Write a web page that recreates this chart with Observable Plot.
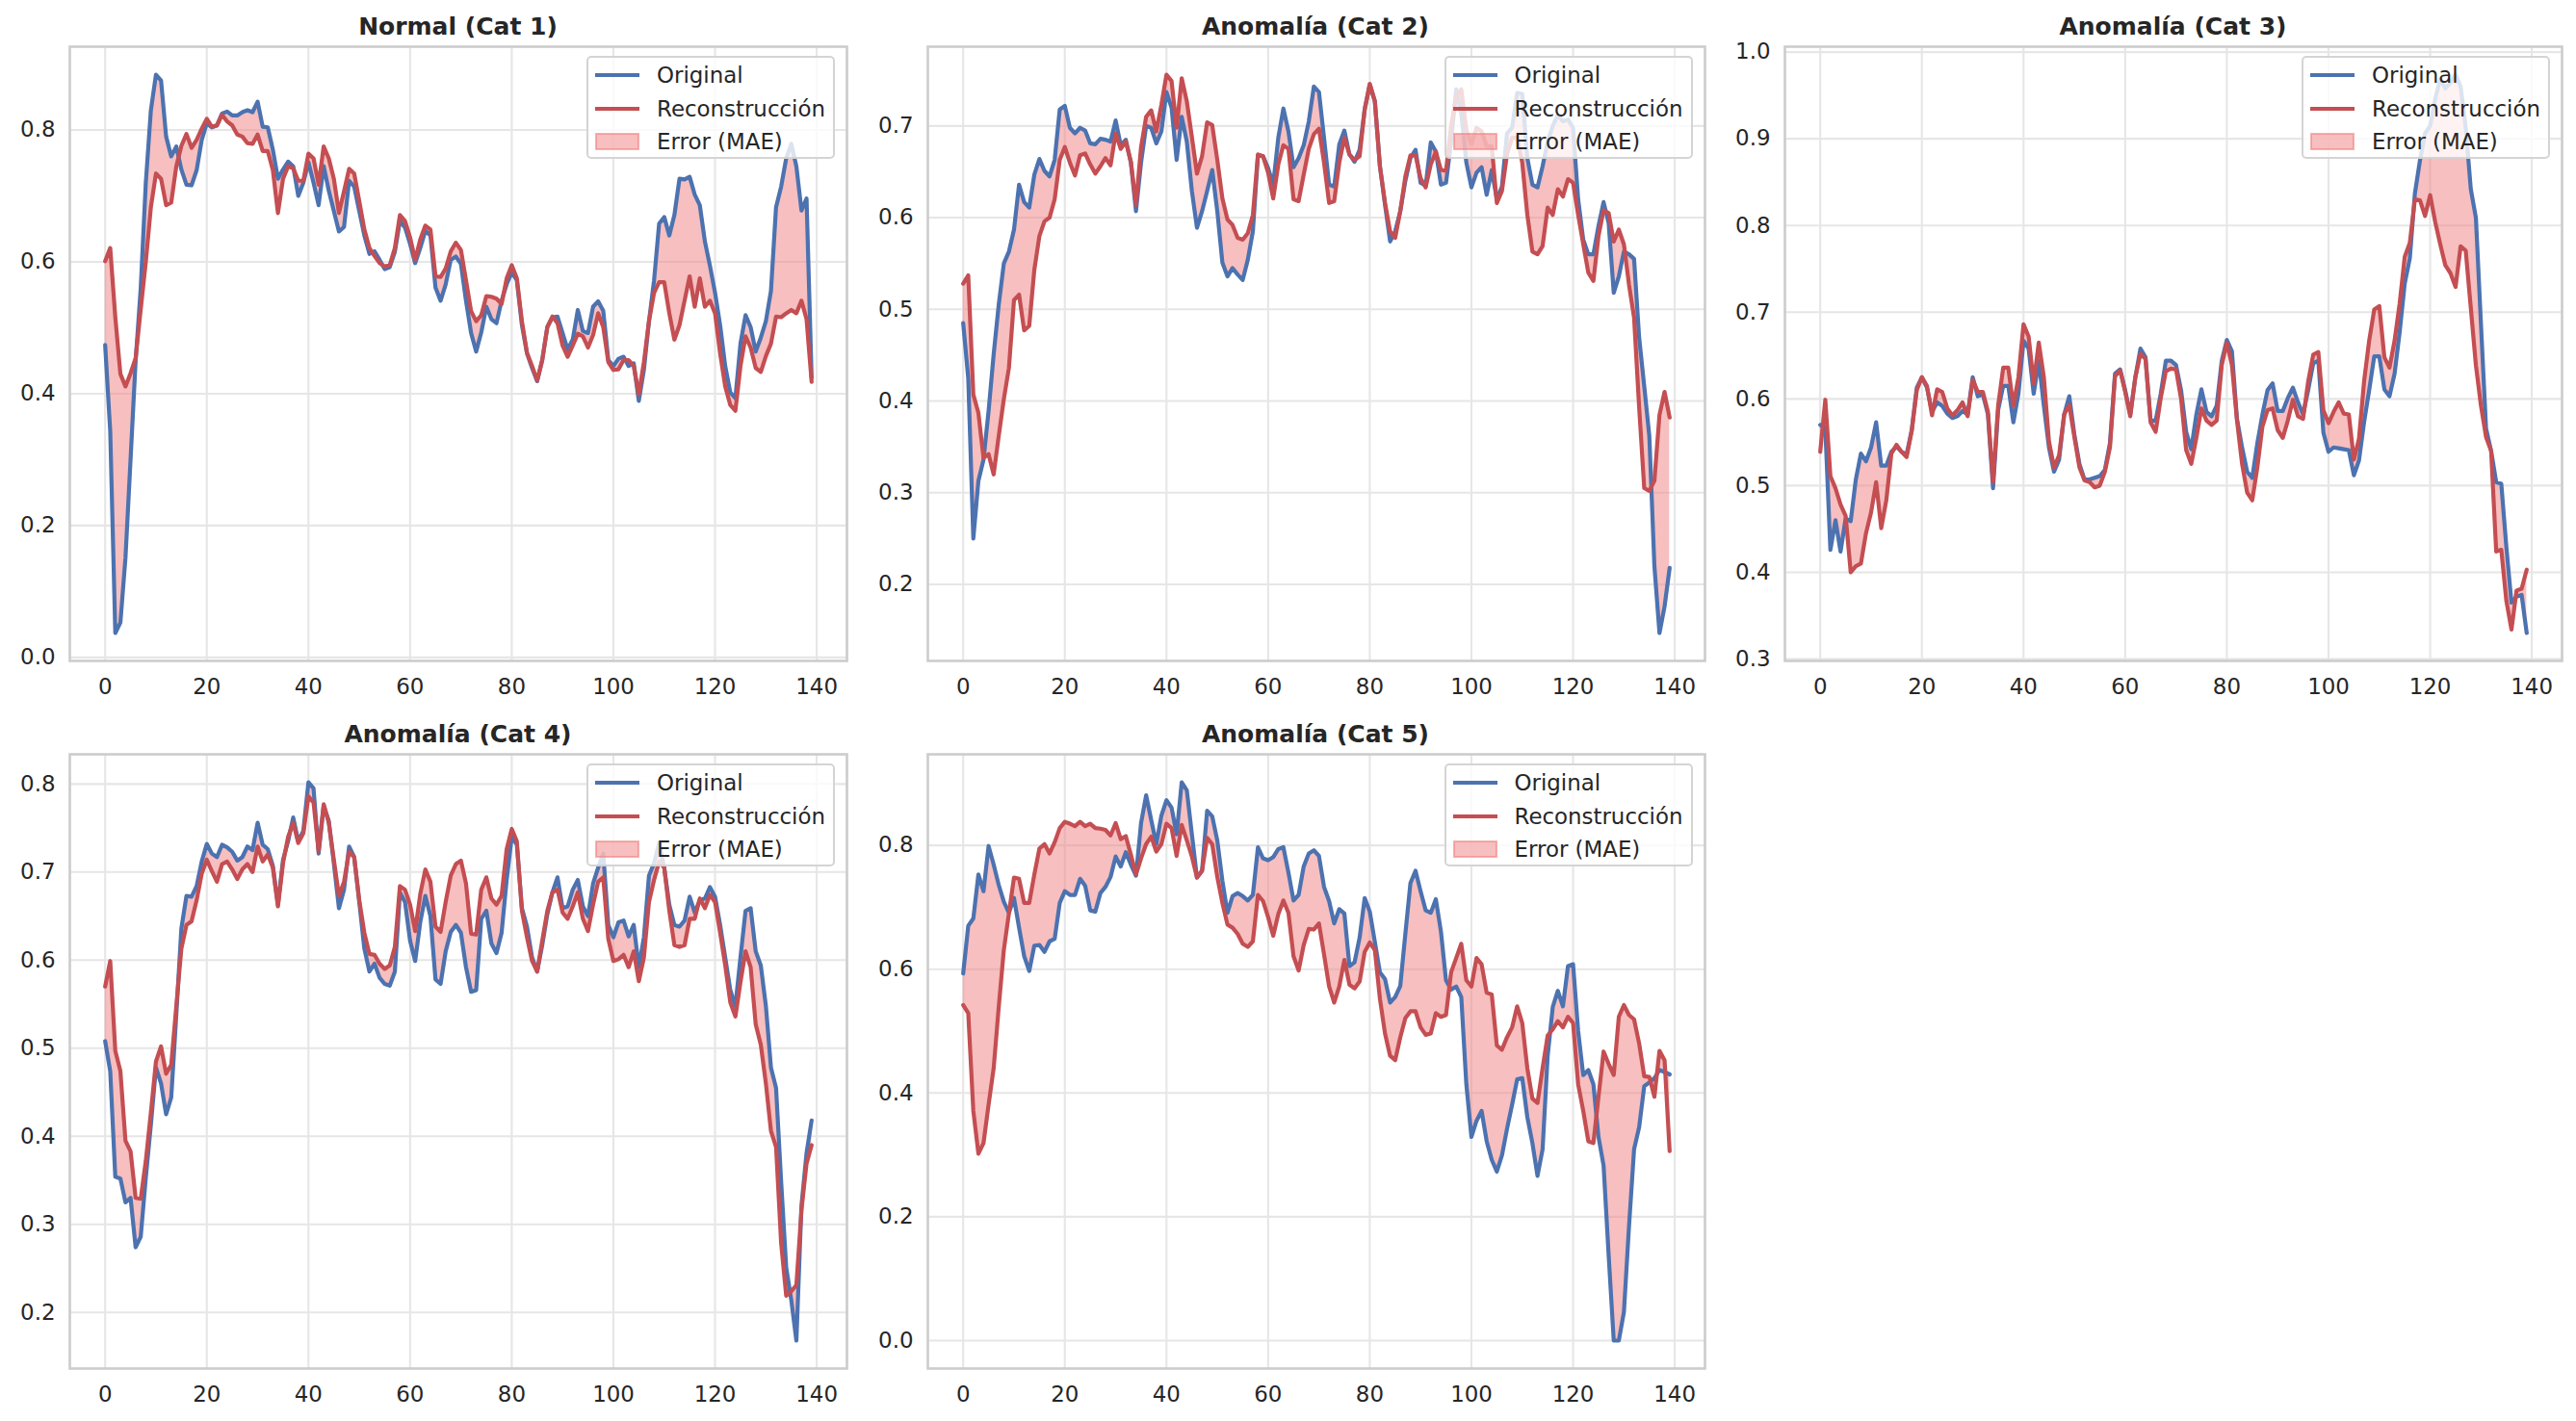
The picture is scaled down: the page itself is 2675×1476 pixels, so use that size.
<!DOCTYPE html>
<html>
<head>
<meta charset="utf-8">
<script src="https://cdn.jsdelivr.net/npm/d3@7"></script>
<script src="https://cdn.jsdelivr.net/npm/@observablehq/plot@0.6"></script>
<style>
  html, body { margin: 0; padding: 0; background: #ffffff; }
  #fig { position: relative; width: 2675px; height: 1476px; overflow: hidden;
         font-family: "DejaVu Sans", sans-serif; color: #262626; background: #ffffff; }
  .panel-title { position: absolute; text-align: center; font-weight: bold;
                 font-size: 25px; line-height: 30px; white-space: nowrap; }
  .legend { position: absolute; box-sizing: border-box; background: rgba(255,255,255,0.8);
            border: 2px solid rgba(204,204,204,0.85); border-radius: 5px; }
  .legend .item { position: absolute; left: 0; right: 0; height: 30px; }
  .legend .item svg { position: absolute; left: 7px; top: 0; }
  .legend .item span { position: absolute; left: 71px; top: 0; line-height: 30px;
                       font-size: 22.9px; white-space: nowrap; }
</style>
</head>
<body>
<div id="fig"></div>
<script>
// Time steps of each window
const steps = d3.range(140);

const titles = ["Normal (Cat 1)", "Anomalía (Cat 2)", "Anomalía (Cat 3)", "Anomalía (Cat 4)", "Anomalía (Cat 5)"];
const seriesLabels = ["Original", "Reconstrucción", "Error (MAE)"];

const xTicks = [0, 20, 40, 60, 80, 100, 120, 140];
const yTicks1 = [0.0, 0.2, 0.4, 0.6, 0.8];
const yTicks2 = [0.2, 0.3, 0.4, 0.5, 0.6, 0.7];
const yTicks3 = [0.3, 0.4, 0.5, 0.6, 0.7, 0.8, 0.9, 1.0];
const yTicks4 = [0.2, 0.3, 0.4, 0.5, 0.6, 0.7, 0.8];
const yTicks5 = [0.0, 0.2, 0.4, 0.6, 0.8];

const p1Original = [
  0.474, 0.343, 0.037, 0.053, 0.151, 0.300, 0.450, 0.560, 0.720, 0.830,
  0.884, 0.875, 0.790, 0.760, 0.775, 0.740, 0.717, 0.716, 0.739, 0.785,
  0.810, 0.804, 0.807, 0.825, 0.828, 0.822, 0.822, 0.827, 0.830, 0.827,
  0.843, 0.805, 0.804, 0.770, 0.726, 0.740, 0.752, 0.745, 0.700, 0.720,
  0.751, 0.720, 0.686, 0.745, 0.708, 0.677, 0.646, 0.653, 0.723, 0.714,
  0.677, 0.640, 0.612, 0.616, 0.603, 0.589, 0.592, 0.615, 0.662, 0.652,
  0.627, 0.598, 0.621, 0.647, 0.640, 0.561, 0.541, 0.566, 0.603, 0.608,
  0.597, 0.541, 0.492, 0.464, 0.493, 0.532, 0.513, 0.507, 0.541, 0.566,
  0.584, 0.572, 0.504, 0.461, 0.439, 0.419, 0.451, 0.501, 0.516, 0.517,
  0.492, 0.467, 0.482, 0.527, 0.495, 0.492, 0.532, 0.540, 0.526, 0.451,
  0.442, 0.453, 0.456, 0.442, 0.446, 0.389, 0.436, 0.510, 0.572, 0.658,
  0.668, 0.640, 0.671, 0.726, 0.725, 0.729, 0.702, 0.686, 0.631, 0.594,
  0.553, 0.504, 0.442, 0.402, 0.393, 0.476, 0.519, 0.501, 0.464, 0.485,
  0.510, 0.556, 0.683, 0.714, 0.757, 0.779, 0.745, 0.678, 0.696, 0.424
];
const p1Recon = [
  0.601, 0.621, 0.516, 0.430, 0.411, 0.431, 0.454, 0.528, 0.600, 0.683,
  0.734, 0.726, 0.686, 0.690, 0.745, 0.776, 0.794, 0.773, 0.785, 0.802,
  0.817, 0.805, 0.807, 0.823, 0.813, 0.807, 0.793, 0.790, 0.780, 0.779,
  0.793, 0.768, 0.768, 0.739, 0.674, 0.726, 0.745, 0.742, 0.723, 0.723,
  0.764, 0.757, 0.717, 0.775, 0.757, 0.726, 0.674, 0.707, 0.741, 0.734,
  0.692, 0.649, 0.621, 0.609, 0.598, 0.593, 0.595, 0.621, 0.671, 0.662,
  0.637, 0.603, 0.634, 0.655, 0.649, 0.578, 0.577, 0.590, 0.616, 0.629,
  0.618, 0.572, 0.525, 0.510, 0.519, 0.548, 0.547, 0.544, 0.536, 0.575,
  0.595, 0.575, 0.510, 0.462, 0.442, 0.420, 0.451, 0.501, 0.517, 0.507,
  0.473, 0.456, 0.473, 0.491, 0.487, 0.470, 0.489, 0.522, 0.501, 0.448,
  0.436, 0.437, 0.451, 0.451, 0.442, 0.399, 0.448, 0.510, 0.553, 0.569,
  0.569, 0.522, 0.482, 0.504, 0.541, 0.578, 0.532, 0.575, 0.532, 0.541,
  0.522, 0.461, 0.411, 0.383, 0.374, 0.442, 0.487, 0.470, 0.439, 0.433,
  0.457, 0.476, 0.517, 0.516, 0.522, 0.527, 0.522, 0.541, 0.513, 0.418
];

const p2Original = [
  0.485, 0.425, 0.250, 0.313, 0.336, 0.389, 0.451, 0.505, 0.550, 0.563,
  0.587, 0.636, 0.617, 0.611, 0.647, 0.664, 0.651, 0.645, 0.663, 0.718,
  0.722, 0.698, 0.692, 0.698, 0.695, 0.681, 0.680, 0.686, 0.685, 0.683,
  0.706, 0.679, 0.685, 0.660, 0.607, 0.660, 0.700, 0.698, 0.681, 0.694,
  0.737, 0.720, 0.663, 0.710, 0.683, 0.629, 0.589, 0.607, 0.629, 0.652,
  0.607, 0.551, 0.536, 0.545, 0.538, 0.532, 0.554, 0.585, 0.668, 0.667,
  0.654, 0.636, 0.687, 0.719, 0.694, 0.655, 0.665, 0.679, 0.705, 0.743,
  0.737, 0.687, 0.636, 0.634, 0.680, 0.695, 0.669, 0.661, 0.674, 0.718,
  0.745, 0.727, 0.656, 0.614, 0.574, 0.585, 0.607, 0.640, 0.665, 0.674,
  0.638, 0.635, 0.682, 0.672, 0.636, 0.638, 0.683, 0.740, 0.714, 0.660,
  0.633, 0.649, 0.655, 0.625, 0.652, 0.620, 0.634, 0.692, 0.698, 0.736,
  0.735, 0.665, 0.636, 0.633, 0.656, 0.683, 0.700, 0.712, 0.705, 0.707,
  0.698, 0.620, 0.576, 0.560, 0.560, 0.591, 0.617, 0.594, 0.518, 0.536,
  0.563, 0.560, 0.555, 0.469, 0.416, 0.362, 0.220, 0.147, 0.176, 0.218
];
const p2Recon = [
  0.528, 0.537, 0.407, 0.387, 0.338, 0.342, 0.320, 0.362, 0.402, 0.436,
  0.510, 0.516, 0.477, 0.482, 0.543, 0.580, 0.596, 0.600, 0.620, 0.663,
  0.677, 0.660, 0.646, 0.668, 0.670, 0.658, 0.648, 0.656, 0.665, 0.657,
  0.692, 0.675, 0.683, 0.661, 0.614, 0.677, 0.710, 0.717, 0.694, 0.723,
  0.756, 0.749, 0.698, 0.752, 0.727, 0.688, 0.648, 0.667, 0.704, 0.701,
  0.663, 0.621, 0.598, 0.592, 0.578, 0.576, 0.583, 0.603, 0.669, 0.667,
  0.649, 0.621, 0.658, 0.679, 0.675, 0.620, 0.618, 0.647, 0.675, 0.691,
  0.697, 0.660, 0.616, 0.618, 0.660, 0.687, 0.669, 0.663, 0.667, 0.718,
  0.746, 0.727, 0.656, 0.616, 0.585, 0.578, 0.607, 0.645, 0.668, 0.668,
  0.643, 0.633, 0.658, 0.672, 0.652, 0.651, 0.700, 0.732, 0.740, 0.696,
  0.680, 0.698, 0.694, 0.678, 0.678, 0.616, 0.629, 0.669, 0.687, 0.687,
  0.660, 0.603, 0.563, 0.560, 0.569, 0.611, 0.603, 0.631, 0.623, 0.642,
  0.638, 0.603, 0.571, 0.540, 0.531, 0.580, 0.608, 0.605, 0.574, 0.587,
  0.571, 0.527, 0.491, 0.393, 0.305, 0.302, 0.313, 0.385, 0.410, 0.382
];

const p3Original = [
  0.570, 0.566, 0.426, 0.460, 0.424, 0.462, 0.459, 0.507, 0.537, 0.528,
  0.544, 0.573, 0.523, 0.523, 0.539, 0.545, 0.539, 0.536, 0.564, 0.613,
  0.625, 0.613, 0.585, 0.596, 0.592, 0.583, 0.578, 0.580, 0.586, 0.582,
  0.625, 0.603, 0.605, 0.582, 0.497, 0.587, 0.615, 0.615, 0.573, 0.606,
  0.667, 0.658, 0.606, 0.644, 0.592, 0.544, 0.516, 0.530, 0.582, 0.603,
  0.559, 0.525, 0.507, 0.507, 0.509, 0.511, 0.518, 0.549, 0.629, 0.634,
  0.610, 0.582, 0.625, 0.658, 0.648, 0.575, 0.575, 0.606, 0.644, 0.644,
  0.639, 0.610, 0.562, 0.542, 0.582, 0.611, 0.585, 0.580, 0.592, 0.644,
  0.668, 0.655, 0.577, 0.544, 0.516, 0.509, 0.549, 0.582, 0.610, 0.618,
  0.586, 0.586, 0.601, 0.613, 0.596, 0.582, 0.610, 0.641, 0.644, 0.561,
  0.539, 0.544, 0.543, 0.542, 0.541, 0.512, 0.529, 0.573, 0.610, 0.649,
  0.649, 0.611, 0.603, 0.629, 0.677, 0.733, 0.762, 0.837, 0.875, 0.906,
  0.915, 0.946, 0.969, 0.958, 0.965, 0.974, 0.960, 0.913, 0.842, 0.809,
  0.686, 0.566, 0.540, 0.504, 0.502, 0.429, 0.365, 0.372, 0.374, 0.330
];
const p3Recon = [
  0.539, 0.599, 0.511, 0.497, 0.478, 0.465, 0.400, 0.407, 0.410, 0.445,
  0.469, 0.504, 0.451, 0.483, 0.537, 0.547, 0.539, 0.533, 0.563, 0.610,
  0.625, 0.615, 0.581, 0.611, 0.608, 0.589, 0.581, 0.587, 0.596, 0.580,
  0.622, 0.608, 0.608, 0.585, 0.504, 0.592, 0.636, 0.636, 0.592, 0.625,
  0.686, 0.672, 0.618, 0.665, 0.625, 0.551, 0.521, 0.535, 0.582, 0.593,
  0.556, 0.521, 0.506, 0.504, 0.498, 0.500, 0.516, 0.544, 0.626, 0.633,
  0.608, 0.580, 0.625, 0.652, 0.646, 0.573, 0.562, 0.601, 0.632, 0.635,
  0.634, 0.600, 0.541, 0.525, 0.555, 0.589, 0.575, 0.570, 0.575, 0.639,
  0.665, 0.639, 0.575, 0.525, 0.492, 0.483, 0.521, 0.568, 0.587, 0.589,
  0.564, 0.555, 0.575, 0.599, 0.580, 0.577, 0.620, 0.651, 0.654, 0.587,
  0.572, 0.585, 0.596, 0.583, 0.582, 0.530, 0.554, 0.620, 0.667, 0.703,
  0.707, 0.648, 0.636, 0.667, 0.710, 0.764, 0.780, 0.830, 0.829, 0.811,
  0.835, 0.804, 0.778, 0.754, 0.745, 0.729, 0.776, 0.771, 0.705, 0.639,
  0.592, 0.556, 0.540, 0.424, 0.426, 0.367, 0.334, 0.379, 0.381, 0.403
];

const p4Original = [
  0.508, 0.474, 0.354, 0.352, 0.325, 0.330, 0.274, 0.286, 0.353, 0.413,
  0.478, 0.460, 0.425, 0.444, 0.538, 0.636, 0.673, 0.672, 0.684, 0.712,
  0.732, 0.721, 0.717, 0.731, 0.728, 0.723, 0.713, 0.717, 0.729, 0.725,
  0.756, 0.731, 0.726, 0.707, 0.663, 0.714, 0.735, 0.762, 0.735, 0.747,
  0.802, 0.795, 0.721, 0.775, 0.758, 0.710, 0.659, 0.680, 0.729, 0.717,
  0.666, 0.613, 0.587, 0.596, 0.580, 0.573, 0.571, 0.587, 0.677, 0.666,
  0.622, 0.599, 0.643, 0.673, 0.650, 0.578, 0.573, 0.610, 0.632, 0.640,
  0.631, 0.592, 0.564, 0.566, 0.647, 0.656, 0.619, 0.608, 0.631, 0.691,
  0.740, 0.731, 0.659, 0.638, 0.603, 0.587, 0.617, 0.652, 0.677, 0.694,
  0.659, 0.661, 0.680, 0.691, 0.661, 0.650, 0.687, 0.705, 0.721, 0.640,
  0.626, 0.643, 0.645, 0.627, 0.640, 0.592, 0.626, 0.696, 0.710, 0.733,
  0.705, 0.663, 0.640, 0.638, 0.645, 0.672, 0.654, 0.668, 0.670, 0.683,
  0.672, 0.640, 0.603, 0.566, 0.548, 0.603, 0.656, 0.659, 0.610, 0.594,
  0.548, 0.478, 0.455, 0.349, 0.251, 0.214, 0.168, 0.321, 0.381, 0.418
];
const p4Recon = [
  0.570, 0.599, 0.497, 0.474, 0.395, 0.383, 0.330, 0.329, 0.372, 0.427,
  0.485, 0.502, 0.471, 0.481, 0.548, 0.613, 0.640, 0.644, 0.668, 0.698,
  0.714, 0.701, 0.689, 0.709, 0.712, 0.703, 0.692, 0.703, 0.709, 0.700,
  0.729, 0.712, 0.720, 0.705, 0.661, 0.710, 0.740, 0.756, 0.733, 0.744,
  0.786, 0.779, 0.724, 0.777, 0.756, 0.714, 0.673, 0.689, 0.723, 0.717,
  0.668, 0.631, 0.607, 0.606, 0.596, 0.590, 0.594, 0.615, 0.684, 0.680,
  0.663, 0.633, 0.675, 0.703, 0.689, 0.638, 0.632, 0.666, 0.696, 0.709,
  0.713, 0.687, 0.630, 0.629, 0.680, 0.694, 0.670, 0.663, 0.673, 0.726,
  0.749, 0.735, 0.656, 0.626, 0.599, 0.587, 0.622, 0.656, 0.677, 0.680,
  0.654, 0.647, 0.661, 0.677, 0.647, 0.633, 0.663, 0.689, 0.694, 0.624,
  0.599, 0.601, 0.606, 0.592, 0.610, 0.576, 0.603, 0.666, 0.691, 0.712,
  0.705, 0.656, 0.617, 0.615, 0.617, 0.647, 0.647, 0.670, 0.659, 0.674,
  0.666, 0.631, 0.594, 0.552, 0.536, 0.575, 0.610, 0.592, 0.527, 0.504,
  0.460, 0.406, 0.388, 0.279, 0.219, 0.224, 0.231, 0.316, 0.369, 0.390
];

const p5Original = [
  0.593, 0.670, 0.682, 0.753, 0.726, 0.799, 0.769, 0.736, 0.709, 0.691,
  0.715, 0.667, 0.621, 0.597, 0.638, 0.639, 0.628, 0.645, 0.649, 0.707,
  0.726, 0.720, 0.720, 0.746, 0.735, 0.695, 0.693, 0.723, 0.733, 0.749,
  0.782, 0.766, 0.789, 0.769, 0.751, 0.836, 0.881, 0.841, 0.802, 0.848,
  0.873, 0.861, 0.818, 0.902, 0.889, 0.818, 0.748, 0.759, 0.856, 0.847,
  0.808, 0.743, 0.691, 0.718, 0.723, 0.718, 0.711, 0.720, 0.797, 0.779,
  0.776, 0.781, 0.794, 0.797, 0.756, 0.711, 0.720, 0.766, 0.787, 0.792,
  0.783, 0.733, 0.710, 0.674, 0.697, 0.690, 0.605, 0.611, 0.651, 0.715,
  0.693, 0.644, 0.595, 0.584, 0.546, 0.555, 0.573, 0.657, 0.739, 0.759,
  0.726, 0.695, 0.691, 0.713, 0.661, 0.582, 0.567, 0.572, 0.555, 0.414,
  0.329, 0.355, 0.371, 0.322, 0.292, 0.273, 0.299, 0.342, 0.381, 0.422,
  0.424, 0.361, 0.319, 0.266, 0.309, 0.460, 0.539, 0.565, 0.540, 0.605,
  0.608, 0.500, 0.429, 0.437, 0.414, 0.329, 0.283, 0.138, 0.000, 0.000,
  0.046, 0.184, 0.309, 0.345, 0.411, 0.417, 0.424, 0.437, 0.434, 0.430
];
const p5Recon = [
  0.542, 0.529, 0.371, 0.302, 0.319, 0.381, 0.440, 0.539, 0.631, 0.690,
  0.748, 0.746, 0.707, 0.707, 0.753, 0.795, 0.802, 0.787, 0.805, 0.828,
  0.838, 0.835, 0.831, 0.838, 0.831, 0.835, 0.828, 0.827, 0.825, 0.816,
  0.836, 0.810, 0.815, 0.785, 0.753, 0.779, 0.802, 0.814, 0.790, 0.802,
  0.835, 0.828, 0.783, 0.833, 0.808, 0.782, 0.748, 0.759, 0.812, 0.802,
  0.749, 0.707, 0.672, 0.667, 0.657, 0.641, 0.636, 0.645, 0.720, 0.710,
  0.684, 0.654, 0.689, 0.711, 0.691, 0.621, 0.598, 0.639, 0.665, 0.664,
  0.674, 0.624, 0.572, 0.546, 0.572, 0.615, 0.575, 0.569, 0.580, 0.628,
  0.643, 0.631, 0.552, 0.496, 0.460, 0.453, 0.490, 0.521, 0.532, 0.532,
  0.506, 0.494, 0.496, 0.529, 0.523, 0.526, 0.595, 0.618, 0.641, 0.582,
  0.572, 0.618, 0.608, 0.562, 0.559, 0.477, 0.470, 0.490, 0.506, 0.540,
  0.513, 0.440, 0.391, 0.384, 0.440, 0.493, 0.503, 0.516, 0.506, 0.523,
  0.513, 0.414, 0.371, 0.322, 0.319, 0.394, 0.467, 0.447, 0.429, 0.523,
  0.542, 0.526, 0.519, 0.480, 0.427, 0.426, 0.394, 0.468, 0.453, 0.306
];

// Palette
const blue = "#4c72b0";
const red = "#c44e52";
const errFill = "#f08080";

// Panel grid geometry (plot frame boxes, in page pixels)
const frameW = 807, frameH = 638;
const colLeft = [72, 962.5, 1853];
const rowTop = [48, 783];
const mL = 80, mR = 4, mT = 4, mB = 60;

const panels = [
  {title: titles[0], orig: p1Original, recon: p1Recon, yTicks: yTicks1, col: 0, row: 0},
  {title: titles[1], orig: p2Original, recon: p2Recon, yTicks: yTicks2, col: 1, row: 0},
  {title: titles[2], orig: p3Original, recon: p3Recon, yTicks: yTicks3, col: 2, row: 0},
  {title: titles[3], orig: p4Original, recon: p4Recon, yTicks: yTicks4, col: 0, row: 1},
  {title: titles[4], orig: p5Original, recon: p5Recon, yTicks: yTicks5, col: 1, row: 1}
];

const fig = document.getElementById("fig");
const fmt = d3.format(".1f");

// x extent with a 5% pad on either side
const xPad = (steps[steps.length - 1] - steps[0]) * 0.05;
const xDomain = [steps[0] - xPad, steps[steps.length - 1] + xPad];

for (const p of panels) {
  const rows = steps.map(i => ({t: i, orig: p.orig[i], recon: p.recon[i]}));
  const [lo, hi] = d3.extent(p.orig.concat(p.recon));
  const pad = (hi - lo) * 0.05;

  const svg = Plot.plot({
    width: frameW + mL + mR,
    height: frameH + mT + mB,
    marginLeft: mL, marginRight: mR, marginTop: mT, marginBottom: mB,
    style: {fontFamily: "DejaVu Sans, sans-serif", fontSize: "22.9px", color: "#262626", background: "transparent"},
    x: {domain: xDomain},
    y: {domain: [lo - pad, hi + pad]},
    marks: [
      Plot.gridX(xTicks, {stroke: "#e6e6e6", strokeOpacity: 1, strokeWidth: 2.1}),
      Plot.gridY(p.yTicks, {stroke: "#e6e6e6", strokeOpacity: 1, strokeWidth: 2.1}),
      Plot.areaY(rows, {x: "t", y1: "orig", y2: "recon", fill: errFill, fillOpacity: 0.5}),
      Plot.lineY(rows, {x: "t", y: "orig", stroke: blue, strokeWidth: 4.2, strokeLinejoin: "round"}),
      Plot.lineY(rows, {x: "t", y: "recon", stroke: red, strokeWidth: 4.2, strokeLinejoin: "round"}),
      Plot.frame({stroke: "#cccccc", strokeWidth: 2.6}),
      Plot.axisX(xTicks, {tickSize: 0, tickPadding: 18, label: null, fontSize: 22.9}),
      Plot.axisY(p.yTicks, {tickSize: 0, tickPadding: 15, label: null, tickFormat: fmt, fontSize: 22.9})
    ]
  });
  const fx = colLeft[p.col], fy = rowTop[p.row];
  svg.style.position = "absolute";
  svg.style.left = (fx - mL) + "px";
  svg.style.top = (fy - mT) + "px";
  svg.style.maxWidth = "none";
  svg.style.overflow = "visible";
  fig.appendChild(svg);

  // Panel title
  const t = document.createElement("div");
  t.className = "panel-title";
  t.textContent = p.title;
  t.style.left = fx + "px";
  t.style.width = frameW + "px";
  t.style.top = (fy - 35) + "px";
  fig.appendChild(t);

  // Legend in the upper-right corner
  const lg = document.createElement("div");
  lg.className = "legend";
  const lgW = 258, lgH = 107;
  lg.style.width = lgW + "px";
  lg.style.height = lgH + "px";
  lg.style.left = (fx + frameW - 12 - lgW) + "px";
  lg.style.top = (fy + 10) + "px";
  const kinds = [["line", blue], ["line", red], ["patch", errFill]];
  kinds.forEach(([kind, color], i) => {
    const item = document.createElement("div");
    item.className = "item";
    item.style.top = (3 + i * 34.5) + "px";
    const sw = kind === "line"
      ? `<svg width="46" height="30"><line x1="0" x2="46" y1="15" y2="15" stroke="${color}" stroke-width="4.2"/></svg>`
      : `<svg width="46" height="30"><rect x="1" y="7" width="44" height="16" fill="${color}" fill-opacity="0.5" stroke="${color}" stroke-opacity="0.6" stroke-width="2"/></svg>`;
    item.innerHTML = sw + `<span>${seriesLabels[i]}</span>`;
    lg.appendChild(item);
  });
  fig.appendChild(lg);
}
</script>
</body>
</html>
